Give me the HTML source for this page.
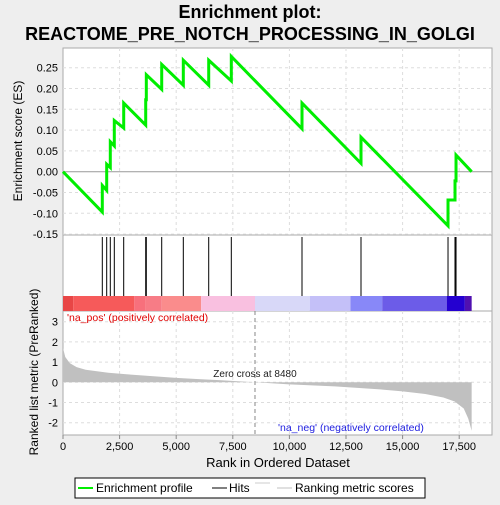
<!DOCTYPE html>
<html><head><meta charset="utf-8"><style>
body{margin:0;background:#eeeeee;font-family:"Liberation Sans",sans-serif;}
svg text{font-family:"Liberation Sans",sans-serif;}
</style></head><body>
<svg id="c" width="500" height="500" xmlns="http://www.w3.org/2000/svg">
<rect width="500" height="500" fill="#eeeeee"/>
<text x="250" y="18" text-anchor="middle" font-size="18" font-weight="bold">Enrichment plot:</text>
<text x="250" y="40" text-anchor="middle" font-size="18" font-weight="bold">REACTOME_PRE_NOTCH_PROCESSING_IN_GOLGI</text>
<g id="g"></g>
</svg>
<script>
const N = 18050;
const hitRanks = [1736,1930,2089,2266,2681,3653,3680,4360,5314,6436,7434,10557,13163,17006,17315,17360];
const esBefore = [-0.097,-0.045,0.010,0.062,0.105,0.112,0.173,0.198,0.208,0.208,0.218,0.103,0.020,-0.130,-0.068,-0.022];
const esAfter  = [-0.033,0.018,0.072,0.123,0.165,0.173,0.233,0.258,0.268,0.268,0.277,0.165,0.083,-0.068,-0.022,0.040];
const esTicks = [0.25,0.20,0.15,0.10,0.05,0.00,-0.05,-0.10,-0.15];
const metricRanks = [0,100,300,600,1000,2000,3000,4000,5000,6000,7000,8480,10000,12000,14000,15000,16000,16800,17300,17700,17900,18050];
const metricVals  = [1.7,1.25,0.95,0.75,0.62,0.47,0.38,0.3,0.22,0.16,0.1,0,-0.1,-0.2,-0.35,-0.45,-0.58,-0.75,-0.95,-1.3,-1.8,-2.4];
const metricTicks = [3,2,1,0,-1,-2];
const xTicks = [0,2500,5000,7500,10000,12500,15000,17500];
const zeroCross = 8480;
const barStops = [0,450,3150,3650,4360,6100,8480,10900,12700,14100,16950,17750,18050];
const barColors = ['#e84646','#f65a5a','#f7707c','#f77c86','#fa8c8c','#f9c0e0','#d8d8f8','#c4c0f8','#8888f8','#6c5ce8','#2400d0','#5010b0'];

const L=63,R=492,xs=0.02264;
const X=r=>L+r*xs;
const Y=v=>171.7-v*416;
const YM=v=>382.3-v*20.2;
const g=document.getElementById('g');
const NS='http://www.w3.org/2000/svg';
function el(t,a,p){const e=document.createElementNS(NS,t);for(const k in a)e.setAttribute(k,a[k]);(p||g).appendChild(e);return e;}

// panels
let p1=el('rect',{x:L,y:48,width:R-L,height:187,fill:'#fff',stroke:'#aaa'});


let p2=el('rect',{x:L,y:235,width:R-L,height:76,fill:'#fff',stroke:'#aaa'});


let p3=el('rect',{x:L,y:311,width:R-L,height:124,fill:'#fff',stroke:'#aaa'});



// grid
xTicks.forEach(t=>{
  if(t===0)return;
  el('line',{x1:X(t),x2:X(t),y1:48,y2:235,stroke:'#ddd','stroke-dasharray':'3,3'});
  el('line',{x1:X(t),x2:X(t),y1:311,y2:435,stroke:'#ddd','stroke-dasharray':'3,3'});
});
esTicks.forEach(t=>{
  el('line',{x1:L,x2:R,y1:Y(t),y2:Y(t),stroke:t===0?'#999':'#ddd','stroke-dasharray':t===0?'':'3,3'});
  let tx=el('text',{x:L-5,y:Y(t)+4,'text-anchor':'end','font-size':11});
  tx.textContent=t.toFixed(2);
  
  
});
metricTicks.forEach(t=>{
  el('line',{x1:L,x2:R,y1:YM(t),y2:YM(t),stroke:'#ddd','stroke-dasharray':'3,3'});
  let tx=el('text',{x:L-5,y:YM(t)+4,'text-anchor':'end','font-size':11});
  tx.textContent=t;
  
  
});

// ES line
let pts=[[X(0),Y(0)]];
hitRanks.forEach((r,i)=>{pts.push([X(r),Y(esBefore[i])]);pts.push([X(r),Y(esAfter[i])]);});
pts.push([X(N),Y(0)]);
let es=el('polyline',{points:pts.map(p=>p.join(',')).join(' '),fill:'none',stroke:'#00ee00','stroke-width':3});



// hits
hitRanks.forEach(r=>{
  let h=el('line',{x1:X(r),x2:X(r),y1:237,y2:296,stroke:'#000','stroke-width':1});
  
  
});

// colorbar
barColors.forEach((c,i)=>{
  let b=el('rect',{x:X(barStops[i]),y:296,width:X(barStops[i+1])-X(barStops[i]),height:15,fill:c});
  
  
});

// metric area
let mp=`M${X(0)},${YM(0)} `+metricRanks.map((r,i)=>`L${X(r)},${YM(metricVals[i])}`).join(' ')+` L${X(N)},${YM(0)} Z`;
let ma=el('path',{d:mp,fill:'#c0c0c0'});


el('line',{x1:X(zeroCross),x2:X(zeroCross),y1:311,y2:435,stroke:'#888','stroke-dasharray':'4,3'});
let zc=el('text',{x:X(zeroCross),y:377,'text-anchor':'middle','font-size':10,fill:'#222'});
zc.textContent='Zero cross at '+zeroCross;


let pl=el('text',{x:67,y:321,'font-size':10.5,fill:'#e00000'});
pl.textContent="'na_pos' (positively correlated)";


let nl=el('text',{x:278,y:431,'font-size':10.5,fill:'#2020e0'});
nl.textContent="'na_neg' (negatively correlated)";



// x ticks
xTicks.forEach(t=>{
  el('line',{x1:X(t),x2:X(t),y1:435,y2:439,stroke:'#888'});
  let tx=el('text',{x:X(t),y:450,'text-anchor':'middle','font-size':11});
  tx.textContent=t.toLocaleString('en-US');
  
  
});
let xt=el('text',{x:278,y:467,'text-anchor':'middle','font-size':13});
xt.textContent='Rank in Ordered Dataset';


let y1=el('text',{x:0,y:0,'text-anchor':'middle','font-size':12,transform:'translate(22,141) rotate(-90)'});
y1.textContent='Enrichment score (ES)';


let y2=el('text',{x:0,y:0,'text-anchor':'middle','font-size':12,transform:'translate(38,372) rotate(-90)'});
y2.textContent='Ranked list metric (PreRanked)';



// legend
let lg=el('rect',{x:75,y:478,width:350,height:20,fill:'#fff',stroke:'#000'});


el('line',{x1:78,x2:93,y1:488,y2:488,stroke:'#00ee00','stroke-width':2});
let l1=el('text',{x:96,y:492,'font-size':12});l1.textContent='Enrichment profile';


el('line',{x1:212,x2:227,y1:488,y2:488,stroke:'#000','stroke-width':1});
let l2=el('text',{x:229,y:492,'font-size':12});l2.textContent='Hits';


el('line',{x1:255,x2:270,y1:483,y2:483,stroke:'#ccc','stroke-width':1});
el('line',{x1:277,x2:292,y1:488,y2:488,stroke:'#c0c0c0','stroke-width':1});
let l3=el('text',{x:295,y:492,'font-size':12});l3.textContent='Ranking metric scores';


</script>
</body></html>
